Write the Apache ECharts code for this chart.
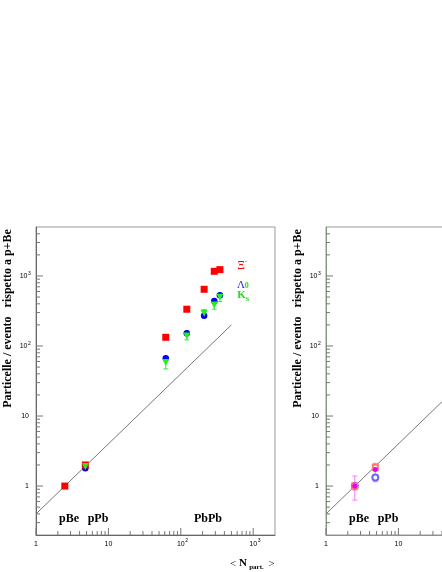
<!DOCTYPE html>
<html><head><meta charset="utf-8">
<script src="https://cdn.jsdelivr.net/npm/echarts@6/dist/echarts.min.js"></script>
<style>html,body{margin:0;padding:0;background:#fff;overflow:hidden;width:442px;height:572px}#c{width:600px;height:572px}</style>
</head><body><div id="c"></div><script>
// ---- Left panel data (strange particles per event relative to p+Be vs <N_part>) ----
const xiX   = [2.5, 4.8, 62, 121, 210, 290, 347];
const xiY   = [1.0, 2.0, 133, 335, 645, 1165, 1230];
const lamX  = [4.8, 62, 121, 210, 290, 347];
const lamY  = [1.8, 67, 152, 271, 440, 530];
const k0X   = [4.8, 62, 121, 210, 290, 347];
const k0Y   = [1.9, 58, 139, 293, 385, 496];
const k0Lo  = [1.8, 47, 122, 258, 335, 430];
const k0Hi  = [2.0, 68, 157, 330, 440, 560];
const scaleLX = [1, 500];
const scaleLY = [0.4, 200];
// ---- Right panel data ----
const rMagX = [2.5, 4.8];  const rMagY = [1.0, 1.73]; const rMagLo = [0.63, 1.15]; const rMagHi = [1.39, 2.11];
const rRedX = [2.5, 4.8];  const rRedY = [1.0, 1.85]; const rRedLo = [0.88, 1.72]; const rRedHi = [1.12, 1.98];
const rBluX = [2.5, 4.8];  const rBluY = [1.0, 1.33]; const rBluLo = [0.92, 1.2];  const rBluHi = [1.08, 1.46];
const scaleRX = [1, 2000];
const scaleRY = [0.4, 800];
// ---- Axes / ticks ----
const X_MIN = 1, X_MAX = 2000, Y_MIN = 0.2, Y_MAX = 5000;
const xMajor = [1, 10, 100, 1000];
const xMajorBase = ['1', '10', '10', '10'];
const xMajorExp  = ['', '', '2', '3'];
const xMinor = [2,3,4,5,6,7,8,9,20,30,40,50,60,70,80,90,200,300,400,500,600,700,800,900];
const yMajor = [1, 10, 100, 1000];
const yMajorBase = ['1', '10', '10', '10'];
const yMajorExp  = ['', '', '2', '3'];
const yMinor = [0.3,0.4,0.5,0.6,0.7,0.8,0.9,2,3,4,5,6,7,8,9,20,30,40,50,60,70,80,90,200,300,400,500,600,700,800,900,2000,3000,4000];
const panelLabelsL = ['pBe', 'pPb', 'PbPb'];
const panelLabelsR = ['pBe', 'pPb'];
const yTitle = 'Particelle / evento   rispetto a p+Be';

const SERIF = '"Liberation Serif", "Times New Roman", serif';
const SANS = '"Liberation Sans", Arial, sans-serif';

function zip(a, b) { return a.map((v, i) => [v, b[i]]); }
function zip3(a, b, c) { return a.map((v, i) => [v, b[i], c[i]]); }

function tickSeries(gi, color) {
  const items = [];
  xMajor.forEach((v, i) => items.push([v, Y_MIN, 0, i]));
  xMinor.forEach(v => items.push([v, Y_MIN, 0, -1]));
  yMajor.forEach((v, i) => items.push([X_MIN, v, 1, i]));
  yMinor.forEach(v => items.push([X_MIN, v, 1, -1]));
  return {
    type: 'custom', xAxisIndex: gi, yAxisIndex: gi, silent: true, clip: false, z: 5,
    data: items,
    renderItem: function (params, api) {
      const isY = api.value(2) === 1;
      const mi = api.value(3);
      const p = api.coord([api.value(0), api.value(1)]);
      const len = mi >= 0 ? 7 : 4;
      const children = [];
      if (isY) {
        children.push({ type: 'line', shape: { x1: p[0], y1: p[1], x2: p[0] + len, y2: p[1] }, style: { stroke: color, lineWidth: 1 } });
        if (mi >= 0) {
          const base = yMajorBase[mi], ex = yMajorExp[mi];
          if (ex) {
            children.push({ type: 'text', style: { text: base, x: p[0] - 8.5, y: p[1] + 0.5, font: '7px ' + SANS, fill: '#000', align: 'right', verticalAlign: 'middle', textAlign: 'right', textVerticalAlign: 'middle' } });
            children.push({ type: 'text', style: { text: ex, x: p[0] - 8, y: p[1] - 2.5, font: '5px ' + SANS, fill: '#000', align: 'left', verticalAlign: 'middle', textAlign: 'left', textVerticalAlign: 'middle' } });
          } else {
            children.push({ type: 'text', style: { text: base, x: p[0] - 7, y: p[1] + 0.5, font: '7px ' + SANS, fill: '#000', align: 'right', verticalAlign: 'middle', textAlign: 'right', textVerticalAlign: 'middle' } });
          }
        }
      } else {
        children.push({ type: 'line', shape: { x1: p[0], y1: p[1], x2: p[0], y2: p[1] - len }, style: { stroke: color, lineWidth: 1 } });
        if (mi >= 0) {
          const base = xMajorBase[mi], ex = xMajorExp[mi];
          children.push({ type: 'text', style: { text: base, x: p[0], y: p[1] + 9, font: '7px ' + SANS, fill: '#000', align: 'center', verticalAlign: 'middle', textAlign: 'center', textVerticalAlign: 'middle' } });
          if (ex) children.push({ type: 'text', style: { text: ex, x: p[0] + 4.5, y: p[1] + 6, font: '5px ' + SANS, fill: '#000', align: 'left', verticalAlign: 'middle', textAlign: 'left', textVerticalAlign: 'middle' } });
        }
      }
      return { type: 'group', children: children };
    }
  };
}

function errSeries(gi, x, lo, hi, color, cap) {
  return {
    type: 'custom', xAxisIndex: gi, yAxisIndex: gi, silent: true, z: 3,
    data: zip3(x, lo, hi),
    renderItem: function (params, api) {
      const a = api.coord([api.value(0), api.value(1)]);
      const b = api.coord([api.value(0), api.value(2)]);
      return { type: 'group', children: [
        { type: 'line', shape: { x1: a[0], y1: a[1], x2: b[0], y2: b[1] }, style: { stroke: color, lineWidth: 1 } },
        { type: 'line', shape: { x1: a[0] - cap, y1: a[1], x2: a[0] + cap, y2: a[1] }, style: { stroke: color, lineWidth: 1 } },
        { type: 'line', shape: { x1: b[0] - cap, y1: b[1], x2: b[0] + cap, y2: b[1] }, style: { stroke: color, lineWidth: 1 } }
      ]};
    }
  };
}

function scatter(gi, x, y, symbol, size, color, rot, z) {
  return { type: 'scatter', xAxisIndex: gi, yAxisIndex: gi, data: zip(x, y), symbol: symbol, symbolSize: size,
    symbolRotate: rot || 0, itemStyle: { color: color, opacity: 1 }, silent: true, z: z || 4, animation: false };
}

function lineSeries(gi, x, y) {
  return { type: 'line', xAxisIndex: gi, yAxisIndex: gi, data: zip(x, y), showSymbol: false, symbol: 'none',
    lineStyle: { color: '#777', width: 1 }, silent: true, z: 2, animation: false };
}

function axisPair(gi, lineColor) {
  return {
    x: { type: 'log', logBase: 10, gridIndex: gi, min: X_MIN, max: X_MAX,
      axisLine: { show: true, lineStyle: { color: lineColor, width: 1 } },
      axisTick: { show: false }, axisLabel: { show: false }, splitLine: { show: false } },
    y: { type: 'log', logBase: 10, gridIndex: gi, min: Y_MIN, max: Y_MAX,
      axisLine: { show: true, lineStyle: { color: lineColor, width: 1 } },
      axisTick: { show: false }, axisLabel: { show: false }, splitLine: { show: false } }
  };
}

const aL = axisPair(0, '#666');
const aR = axisPair(1, '#7f9a7f');

function txt(text, x, y, font, fill, align, extra) {
  return Object.assign({ type: 'text', x: x, y: y, silent: true, z: 10,
    style: { text: text, font: font, fill: fill, align: align || 'center', verticalAlign: 'middle', textAlign: align || 'center', textVerticalAlign: 'middle' } }, extra || {});
}

const chart = echarts.init(document.getElementById('c'), null, { renderer: 'canvas' });
chart.setOption({
  animation: false,
  backgroundColor: '#fff',
  grid: [
    { left: 36, top: 227, width: 239, height: 308, show: true, borderColor: '#999', borderWidth: 1, backgroundColor: 'transparent' },
    { left: 326, top: 227, width: 239, height: 308, show: true, borderColor: '#999', borderWidth: 1, backgroundColor: 'transparent' }
  ],
  xAxis: [aL.x, aR.x],
  yAxis: [aL.y, aR.y],
  series: [
    tickSeries(0, '#777'),
    tickSeries(1, '#777'),
    lineSeries(0, scaleLX, scaleLY),
    lineSeries(1, scaleRX, scaleRY),
    errSeries(0, k0X, k0Lo, k0Hi, '#33ee33', 2.5),
    scatter(0, xiX, xiY, 'rect', 7, '#ff0000', 0, 4),
    scatter(0, k0X, k0Y, 'triangle', 7, '#22ee22', 180, 4),
    scatter(0, lamX, lamY, 'circle', 6.5, '#0000ee', 0, 3),
    errSeries(1, rMagX, rMagLo, rMagHi, '#ff77ff', 2.5),
    errSeries(1, rRedX, rRedLo, rRedHi, '#ff8888', 2),
    errSeries(1, rBluX, rBluLo, rBluHi, '#8888ff', 2),
    scatter(1, rBluX, rBluY, 'emptyCircle', 6, '#6666ff', 0, 4),
    scatter(1, rRedX, rRedY, 'emptyRect', 5, '#ff7777', 0, 4),
    scatter(1, rMagX, rMagY, 'circle', 5, '#ee00ee', 0, 5)
  ],
  graphic: [
    txt(yTitle, 7.5, 318.5, 'bold 12px ' + SERIF, '#000', 'center', { rotation: Math.PI / 2 }),
    txt(yTitle, 297.5, 318.5, 'bold 12px ' + SERIF, '#000', 'center', { rotation: Math.PI / 2 }),
    txt(panelLabelsL[0], 69, 519, 'bold 12px ' + SERIF, '#000'),
    txt(panelLabelsL[1], 98, 519, 'bold 12px ' + SERIF, '#000'),
    txt(panelLabelsL[2], 208, 519, 'bold 12px ' + SERIF, '#000'),
    txt(panelLabelsR[0], 359, 519, 'bold 12px ' + SERIF, '#000'),
    txt(panelLabelsR[1], 388, 519, 'bold 12px ' + SERIF, '#000'),
    // x-axis title
    txt('<', 233, 564, '11px ' + SERIF, '#000'),
    txt('N', 243, 563, 'bold 11px ' + SERIF, '#000'),
    txt('part.', 256.5, 567, 'bold 7px ' + SERIF, '#000'),
    txt('>', 271.5, 564, '11px ' + SERIF, '#000'),
    // particle labels
    txt('Ξ', 241, 265.5, '12px ' + SERIF, '#ff0000'),
    txt('-', 246, 261, '7px ' + SANS, '#ff0000'),
    txt('Λ', 241, 285.5, '11px ' + SERIF, '#2222ff'),
    txt('0', 246.8, 286, 'bold 8px ' + SERIF, '#22dd22'),
    txt('K', 241.6, 295.5, 'bold 11px ' + SERIF, '#22dd22'),
    txt('S', 247.5, 299.5, 'bold 7px ' + SERIF, '#22dd22')
  ]
});
</script></body></html>
